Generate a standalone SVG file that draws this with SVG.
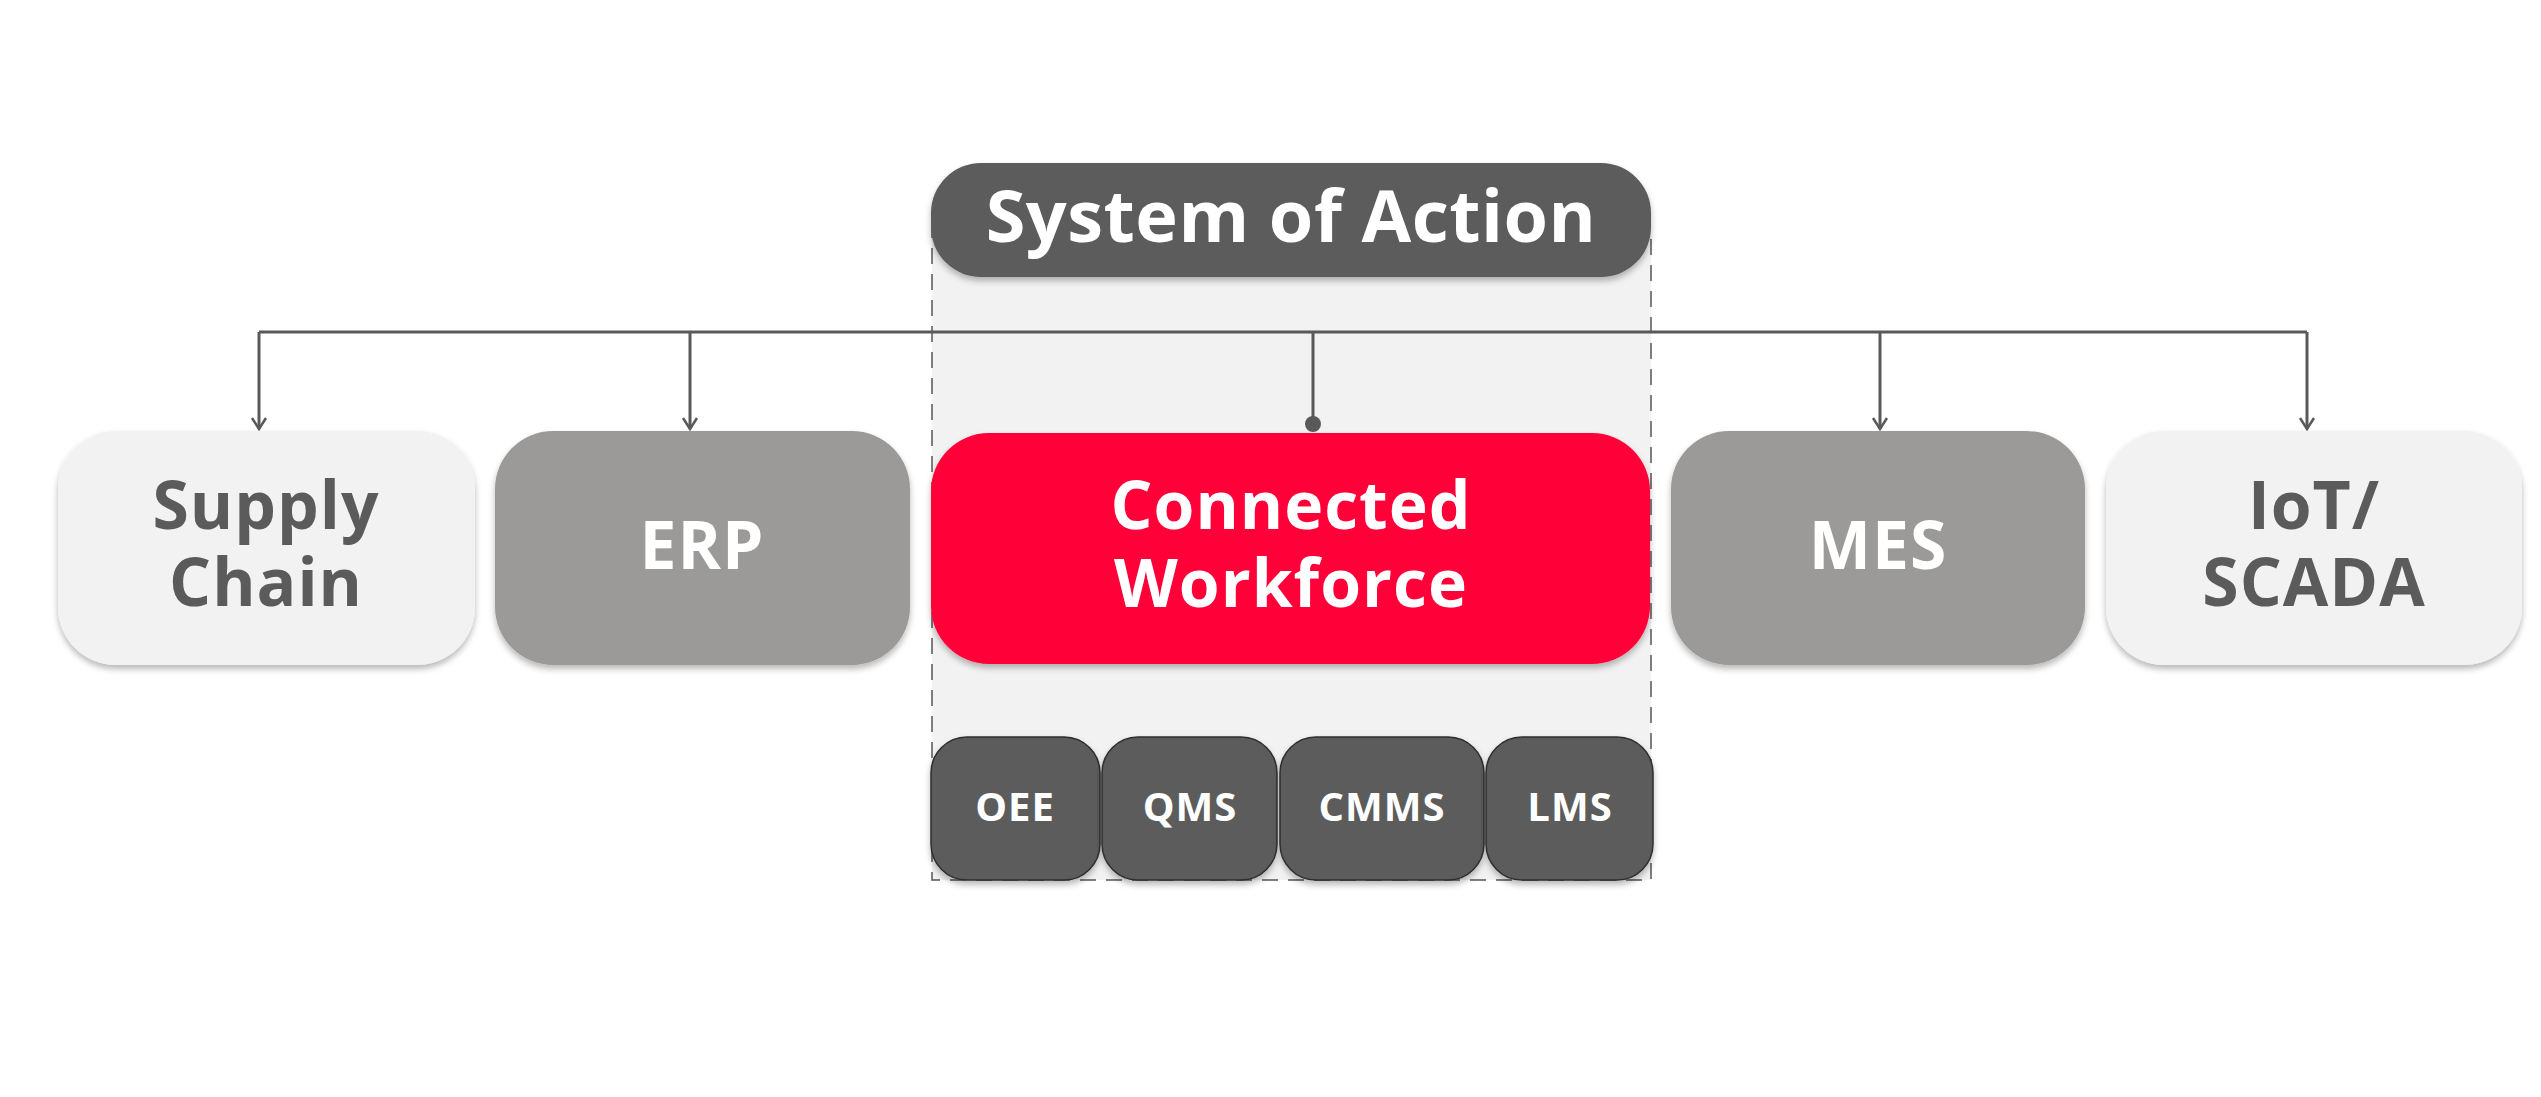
<svg xmlns="http://www.w3.org/2000/svg" width="2541" height="1097" viewBox="0 0 2541 1097">
  <style>
    .lbl { font-family: "Open Sans", "Liberation Sans", sans-serif; font-weight: 700; text-anchor: middle; }
    .big { font-size: 66px; letter-spacing: 1px; }
    .sub { font-size: 40px; letter-spacing: 1px; }
    .title { font-size: 72px; letter-spacing: 0.5px; }
    .white { fill: #FFFFFF; }
    .dark { fill: #5B5B5B; }
    .conn { fill: none; stroke: #595959; stroke-width: 3; }
    .box { filter: url(#sh); }
  </style>
  <defs>
    <filter id="sh" x="-10%" y="-10%" width="120%" height="125%">
      <feDropShadow dx="0" dy="4" stdDeviation="3" flood-color="#000" flood-opacity="0.28"/>
    </filter>
    <marker id="arr" viewBox="-2 -9 15 18" refX="11" refY="0" markerWidth="15" markerHeight="18" markerUnits="userSpaceOnUse" orient="auto">
      <path d="M0,-7 L11,0 L0,7" fill="none" stroke="#595959" stroke-width="2.5"/>
    </marker>
  </defs>
  <rect width="2541" height="1097" fill="#FFFFFF"/>

  <g id="system-of-action-container">
    <rect x="932" y="230" width="719" height="650" fill="#F2F2F2" stroke="#555555" stroke-width="1.5" stroke-dasharray="16 10"/>
  </g>

  <g id="connectors">
    <path class="conn" d="M259,332 H2307"/>
    <path class="conn" d="M259,332 V429" marker-end="url(#arr)"/>
    <path class="conn" d="M690,332 V429" marker-end="url(#arr)"/>
    <path class="conn" d="M1880,332 V429" marker-end="url(#arr)"/>
    <path class="conn" d="M2307,332 V429" marker-end="url(#arr)"/>
    <path class="conn" d="M1313,332 V424"/>
    <circle cx="1313" cy="424" r="8" fill="#595959"/>
  </g>

  <g id="supply-chain">
    <rect class="box" x="58" y="431" width="417" height="234" rx="58" fill="#F2F2F2"/>
    <text class="lbl big dark"><tspan x="266" y="529">Supply</tspan><tspan x="266" y="606">Chain</tspan></text>
  </g>

  <g id="erp">
    <rect class="box" x="495" y="431" width="415" height="234" rx="58" fill="#9B9A98"/>
    <text class="lbl big white" x="702" y="569">ERP</text>
  </g>

  <g id="connected-workforce">
    <rect class="box" x="931" y="433" width="719" height="231" rx="58" fill="#FF0537"/>
    <text class="lbl big white"><tspan x="1291" y="529">Connected</tspan><tspan x="1291" y="607">Workforce</tspan></text>
  </g>

  <g id="mes">
    <rect class="box" x="1671" y="431" width="414" height="234" rx="58" fill="#9B9A98"/>
    <text class="lbl big white" x="1878" y="569">MES</text>
  </g>

  <g id="iot-scada">
    <rect class="box" x="2106" y="431" width="416" height="234" rx="58" fill="#F2F2F2"/>
    <text class="lbl big dark"><tspan x="2314" y="529">IoT/</tspan><tspan x="2314" y="606">SCADA</tspan></text>
  </g>

  <g id="oee">
    <rect class="box" x="931" y="737" width="169" height="143" rx="36" fill="#5B5B5B" stroke="#2E2E2E" stroke-width="1.5"/>
    <text class="lbl sub white" x="1015" y="821">OEE</text>
  </g>
  <g id="qms">
    <rect class="box" x="1102" y="737" width="175" height="143" rx="36" fill="#5B5B5B" stroke="#2E2E2E" stroke-width="1.5"/>
    <text class="lbl sub white" x="1190" y="821">QMS</text>
  </g>
  <g id="cmms">
    <rect class="box" x="1280" y="737" width="204" height="143" rx="36" fill="#5B5B5B" stroke="#2E2E2E" stroke-width="1.5"/>
    <text class="lbl sub white" x="1382" y="821">CMMS</text>
  </g>
  <g id="lms">
    <rect class="box" x="1486" y="737" width="167" height="143" rx="36" fill="#5B5B5B" stroke="#2E2E2E" stroke-width="1.5"/>
    <text class="lbl sub white" x="1570" y="821">LMS</text>
  </g>

  <g id="system-of-action">
    <rect class="box" x="931" y="163" width="720" height="114" rx="50" fill="#5B5B5B"/>
    <text class="lbl title white" x="1291" y="242">System of Action</text>
  </g>
</svg>
